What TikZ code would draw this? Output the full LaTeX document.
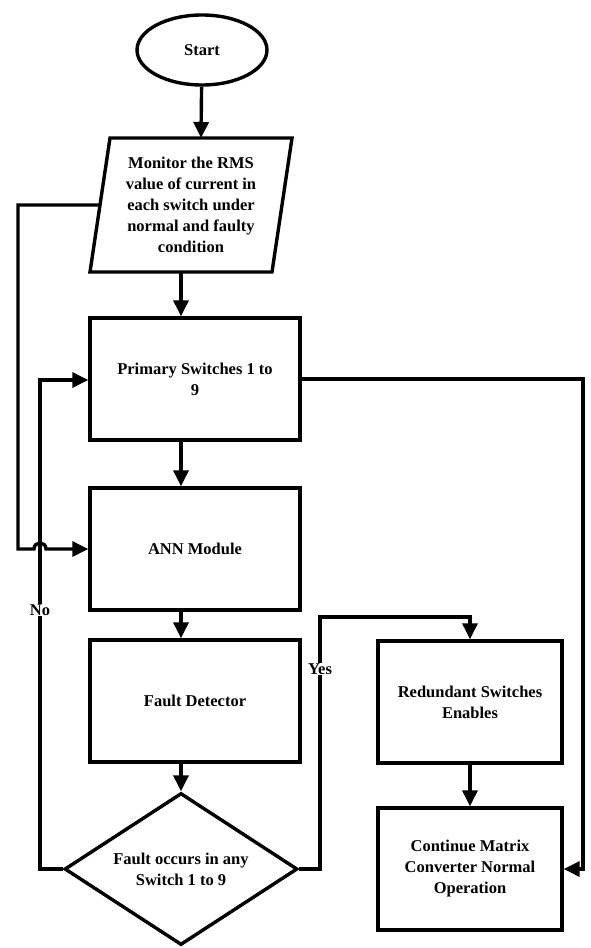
\documentclass[tikz,border=0pt]{standalone}
\usepackage{fontspec}
\setmainfont{Liberation Serif}
\usetikzlibrary{shapes.geometric,arrows.meta,calc}
\begin{document}
\begin{tikzpicture}[x=1pt,y=-1pt,
  line width=3.4pt,
  every node/.style={font=\fontsize{16.5}{21}\selectfont\bfseries, align=center},
  boxnode/.style={draw, rectangle, minimum width=210pt, minimum height=122pt, inner sep=0pt},
  smallbox/.style={draw, rectangle, minimum width=184pt, minimum height=122pt, inner sep=0pt},
  arr/.style={-{Triangle[length=16pt,width=15pt]}, line width=3.4pt},
  lbl/.style={fill=white, inner sep=1pt}
]
\useasboundingbox (0,0) rectangle (590,948);
% Start
\node[draw, ellipse, minimum width=130pt, minimum height=70pt] (st) at (202,50) {Start};
% Monitor parallelogram
\coordinate (m1) at (110,138);
\coordinate (m2) at (292,138);
\coordinate (m3) at (272,272);
\coordinate (m4) at (90,272);
\draw[line join=miter] (m1) -- (m2) -- (m3) -- (m4) -- cycle;
\coordinate (mtop) at (201,138);
\coordinate (mbot) at (181,272);
\coordinate (mleft) at (100,205);
\node (mon) at (191,205) {Monitor the RMS\\value of current in\\each switch under\\normal and faulty\\condition};
% Boxes
\node[boxnode] (prim) at (195,379) {Primary Switches 1 to\\9};
\node[boxnode] (ann) at (195,549) {ANN Module};
\node[boxnode] (fd) at (195,701) {Fault Detector};
\node[draw, diamond, minimum width=233pt, minimum height=152pt, inner sep=0pt] (dia) at (181,869) {};
\node (diatext) at (dia.center) {Fault occurs in any\\Switch 1 to 9};
\node[smallbox] (red) at (470,702) {Redundant Switches\\Enables};
\node[smallbox] (cont) at (470,869) {Continue Matrix\\Converter Normal\\Operation};
% Connectors
\draw[arr] (st) -- (mtop);
\draw[arr] (mbot) -- ([xshift=-14pt]prim.north);
\draw[arr] ([xshift=-14pt]prim.south) -- ([xshift=-14pt]ann.north);
\draw[arr] ([xshift=-14pt]ann.south) -- ([xshift=-14pt]fd.north);
\draw[arr] ([xshift=-14pt]fd.south) -- (dia.north);
\draw[arr] (red) -- (cont);
% Monitor feedback into ANN with hop
\coordinate (hl) at (18,205);
\coordinate (hb) at (18,549);
\coordinate (hop1) at (34,549);
\coordinate (hop2) at (46,549);
\draw[arr] (mleft) -- (hl) -- (hb) -- (hop1) .. controls (34,541) and (46,541) .. (hop2) -- (ann.west);
% No loop
\coordinate (nox) at (40,380);
\draw[arr] (dia.west) -| (nox) -- (prim.west |- nox);
\node[lbl] (no) at (40,610) {No};
% Right loop
\coordinate (rx) at (583,379);
\draw[arr] (prim.east |- rx) -- (rx) |- (cont.east);
% Yes branch
\coordinate (yc) at (320,617);
\draw[arr] (dia.east) -| (yc) -| (red.north);
\node[lbl] (yes) at (320,669) {Yes};
\end{tikzpicture}
\end{document}
